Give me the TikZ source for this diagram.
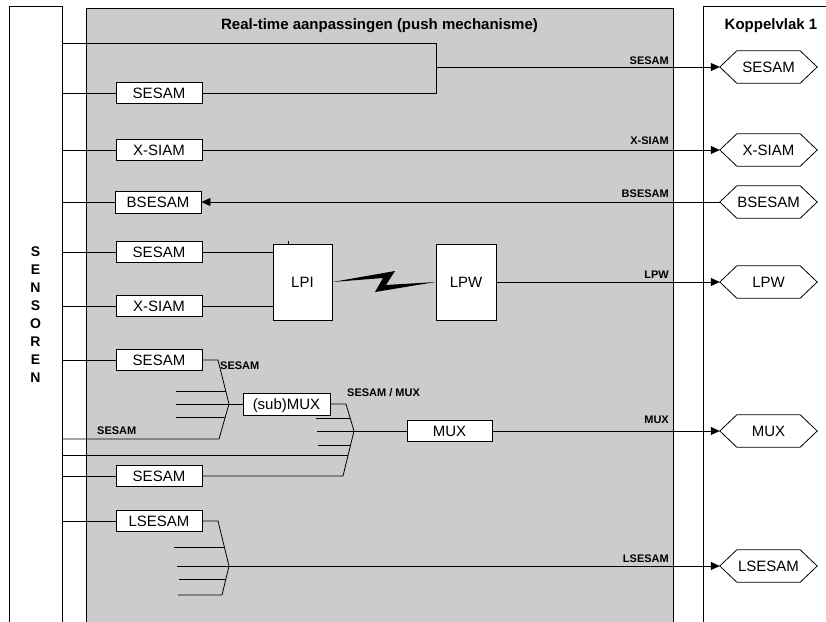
\documentclass[tikz,border=0pt]{standalone}
\usepackage{fontspec}
\setmainfont{Liberation Sans}
\usetikzlibrary{arrows.meta}
\definecolor{panelgray}{RGB}{204,204,204}
\begin{document}
\begin{tikzpicture}[x=1pt,y=-1pt,
 line/.style={draw=black, line width=0.8pt},
 box/.style={draw=black, line width=0.8pt, fill=white, inner sep=0pt, minimum width=86pt, minimum height=21pt, text height=10.8pt, text depth=0pt, font=\fontsize{15}{18}\selectfont},
 big/.style={draw=black, line width=0.8pt, inner sep=0pt},
 hexa/.style={inner sep=0pt, minimum width=97pt, minimum height=32pt, text height=10.8pt, text depth=0pt, font=\fontsize{15}{18}\selectfont},
 lbl/.style={inner sep=0pt, font=\fontsize{11}{13}\selectfont\bfseries},
 head/.style={inner sep=0pt, font=\fontsize{15}{18}\selectfont\bfseries},
 arr/.style={line, -{Triangle[length=9pt,width=8pt]}},
]
\useasboundingbox (0,0) rectangle (826,621);
% large frames
\node[big, minimum width=53pt, minimum height=650pt] (sens) at (35.5,331) {};
\node[big, fill=panelgray, minimum width=587pt, minimum height=650pt] (rt) at (379.5,333) {};
\node[big, minimum width=200pt, minimum height=650pt] (kv) at (803,331) {};
% headers
\node[head, anchor=base] (rtt) at (379.5,29) {Real-time aanpassingen (push mechanisme)};
\node[head, anchor=base] (kvt) at (771,29) {Koppelvlak 1};
\node[inner sep=0pt, align=center, font=\fontsize{14}{18.1}\selectfont\bfseries] (senst) at (35.5,314.5) {S\\E\\N\\S\\O\\R\\E\\N};
% boxes
\node[box] (s1) at (159,93) {SESAM};
\node[box] (x1) at (159,150) {X-SIAM};
\node[box, minimum height=22pt] (b1) at (158,202) {BSESAM};
\node[box] (s2) at (159,252) {SESAM};
\node[box] (x2) at (159,306) {X-SIAM};
\node[box, minimum width=59pt, minimum height=76pt] (lpi) at (302.5,282) {LPI};
\node[box, minimum width=60pt, minimum height=76pt] (lpw) at (466,282) {LPW};
\node[box] (s3) at (159,360) {SESAM};
\node[box, minimum width=87pt, minimum height=22pt] (sub) at (286.5,404) {(sub)MUX};
\node[box] (s4) at (159,476) {SESAM};
\node[box, minimum width=85pt] (mux) at (449.5,431) {MUX};
\node[box] (ls) at (159,521) {LSESAM};
% hexagons
\foreach \n/\yy/\t in {hS/67/SESAM, hX/150/X-SIAM, hB/202/BSESAM, hL/282/LPW, hM/431/MUX, hLS/566/LSESAM} {
  \node[hexa] (\n) at (768.5,\yy) {\t};
  \draw[line] (\n.west) -- ([xshift=17pt]\n.north west) -- ([xshift=-17pt]\n.north east) -- (\n.east) -- ([xshift=-17pt]\n.south east) -- ([xshift=17pt]\n.south west) -- cycle;
}
% sensor feeds
\foreach \b in {s1,x1,b1,s2,x2,s3,s4,ls} {
  \draw[line] (sens.east |- \b.west) -- (\b.west);
}
% row 1 merge
\coordinate (m1) at (436,43);
\coordinate (m1b) at (436,93);
\coordinate (m1o) at (436,67);
\draw[line] (sens.east |- m1) -- (m1) -- (m1b) -- (s1.east);
\draw[arr] (m1o) -- (hS.west);
% direct rows
\draw[arr] (x1.east) -- (hX.west);
\draw[arr] (hB.west) -- (b1.east);
\draw[line] (s2.east) -- (s2.east -| lpi.west);
\draw[line] (x2.east) -- (x2.east -| lpi.west);
\draw[line] ([xshift=-14.5pt]lpi.north) -- ++(0,-3);
\fill (lpi.east) -- (395,271) -- (386,285) -- (lpw.west) -- (375,292) -- (383,278) -- cycle;
\draw[arr] (lpw.east) -- (hL.west);
% funnel 1
\coordinate (f1) at (229,404);
\coordinate (f1a) at (218,360);
\coordinate (f1b) at (219,439);
\draw[line] (s3.east) -- (f1a) -- (f1) -- (f1b) -- (sens.east |- f1b);
\draw[line] (f1) -- (sub.west);
\draw[line] (176,391) -- (225.8,391);
\draw[line] (176,404) -- (f1);
\draw[line] (176,417) -- (225.3,417);
% funnel 2
\coordinate (f2) at (354,431);
\coordinate (f2a) at (346,404);
\coordinate (f2b) at (343,476);
\coordinate (f2c) at (348.1,455);
\draw[line] (sub.east) -- (f2a) -- (f2) -- (f2b) -- (s4.east);
\draw[line] (sens.east |- f2c) -- (f2c);
\draw[line] (316,418) -- (350.1,418);
\draw[line] (317,431) -- (f2);
\draw[line] (318,445) -- (350.6,445);
\draw[line] (f2) -- (mux.west);
\draw[arr] (mux.east) -- (hM.west);
% funnel 3
\coordinate (f3) at (229,566);
\coordinate (f3a) at (218,521);
\coordinate (f3b) at (222,595);
\draw[line] (ls.east) -- (f3a) -- (f3) -- (f3b) -- (178,595);
\draw[line] (174,547) -- (224.4,547);
\draw[line] (177,566) -- (f3);
\draw[line] (179,579) -- (225.9,579);
\draw[arr] (f3) -- (hLS.west);
% labels
\node[lbl, anchor=base east] (l1) at (669,64) {SESAM};
\node[lbl, anchor=base east] (l2) at (669,144) {X-SIAM};
\node[lbl, anchor=base east] (l3) at (669,197) {BSESAM};
\node[lbl, anchor=base east] (l4) at (669,278) {LPW};
\node[lbl, anchor=base east] (l5) at (669,423) {MUX};
\node[lbl, anchor=base east] (l6) at (669,562) {LSESAM};
\node[lbl, anchor=base west] (l7) at (347,396) {SESAM / MUX};
\node[lbl, anchor=base west] (l8) at (220,369) {SESAM};
\node[lbl, anchor=base west] (l9) at (97,434) {SESAM};
\end{tikzpicture}
\end{document}
